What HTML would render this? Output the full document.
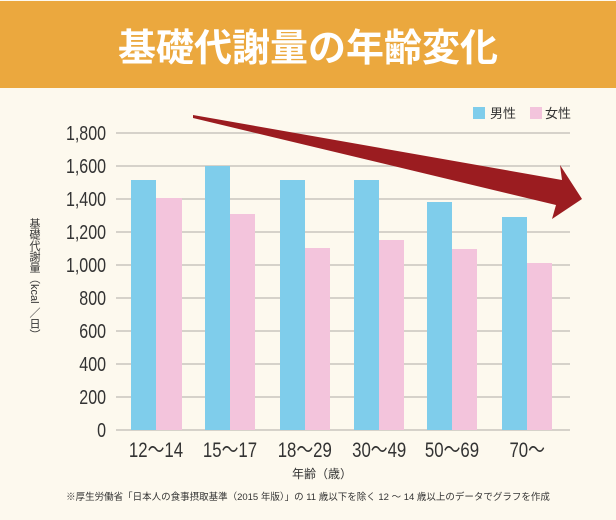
<!DOCTYPE html>
<html><head><meta charset="utf-8"><style>
body{margin:0;width:616px;height:520px;background:#fdf9ee;overflow:hidden;font-family:"Liberation Sans","Noto Sans CJK JP",sans-serif}
</style></head><body>
<svg width="616" height="520" xmlns="http://www.w3.org/2000/svg" style="position:absolute;left:0;top:0">
<rect x="0" y="0" width="616" height="520" fill="#fdf9ee"/>
<rect x="0" y="1" width="616" height="87" fill="#eba83e"/>
<text x="308" y="61" text-anchor="middle" font-size="38" font-weight="bold" fill="#fff" font-family="Noto Sans CJK JP,sans-serif">基礎代謝量の年齢変化</text>
<g stroke="#c9c6bd" stroke-width="1.5">
<line x1="116" x2="570" y1="133" y2="133"/><line x1="116" x2="570" y1="166" y2="166"/>
<line x1="116" x2="570" y1="199" y2="199"/><line x1="116" x2="570" y1="232" y2="232"/>
<line x1="116" x2="570" y1="265" y2="265"/><line x1="116" x2="570" y1="298" y2="298"/>
<line x1="116" x2="570" y1="331" y2="331"/><line x1="116" x2="570" y1="364" y2="364"/>
<line x1="116" x2="570" y1="397" y2="397"/><line x1="116" x2="570" y1="430" y2="430"/>
</g>
<g font-size="20" fill="#333" text-anchor="end" transform="translate(106,0) scale(0.8,1)">
<text x="0" y="140">1,800</text><text x="0" y="173">1,600</text><text x="0" y="206">1,400</text>
<text x="0" y="239">1,200</text><text x="0" y="272">1,000</text><text x="0" y="305">800</text>
<text x="0" y="338">600</text><text x="0" y="371">400</text><text x="0" y="404">200</text><text x="0" y="437">0</text>
</g>
<g fill="#7fcdeb">
<rect x="131" y="180" width="25" height="250"/><rect x="205" y="166" width="25" height="264"/>
<rect x="280" y="180" width="25" height="250"/><rect x="354" y="180" width="25" height="250"/>
<rect x="427" y="202" width="25" height="228"/><rect x="502" y="217" width="25" height="213"/>
</g>
<g fill="#f3c4dc">
<rect x="156" y="198" width="26" height="232"/><rect x="230" y="214" width="25" height="216"/>
<rect x="305" y="248" width="25" height="182"/><rect x="379" y="240" width="25" height="190"/>
<rect x="452" y="249" width="25" height="181"/><rect x="527" y="263" width="25" height="167"/>
</g>
<polygon points="193,115 562,180 560,165 582,199 552,219 556,205 193,118" fill="#9b1c20"/>
<rect x="473" y="107" width="12" height="12" fill="#7fcdeb"/>
<text x="490" y="118" font-size="13" fill="#333">男性</text>
<rect x="530" y="107" width="12" height="12" fill="#f3c4dc"/>
<text x="545" y="118" font-size="13" fill="#333">女性</text>
<g font-size="21" fill="#333" text-anchor="middle" transform="scale(0.8,1)">
<text x="195" y="457">12～14</text><text x="287.5" y="457">15～17</text><text x="381" y="457">18～29</text>
<text x="474" y="457">30～49</text><text x="565" y="457">50～69</text><text x="659" y="457">70～</text>
</g>
<text x="322" y="478" font-size="12" fill="#333" text-anchor="middle">年齢（歳）</text>
<text x="308" y="500" font-size="9.5" fill="#333" text-anchor="middle">※厚生労働省「日本人の食事摂取基準（2015 年版）」の 11 歳以下を除く 12 ～ 14 歳以上のデータでグラフを作成</text>
<text x="34" y="218" writing-mode="tb" font-size="11" fill="#333">基礎代謝量（kcal ／日）</text>
</svg>
</body></html>
